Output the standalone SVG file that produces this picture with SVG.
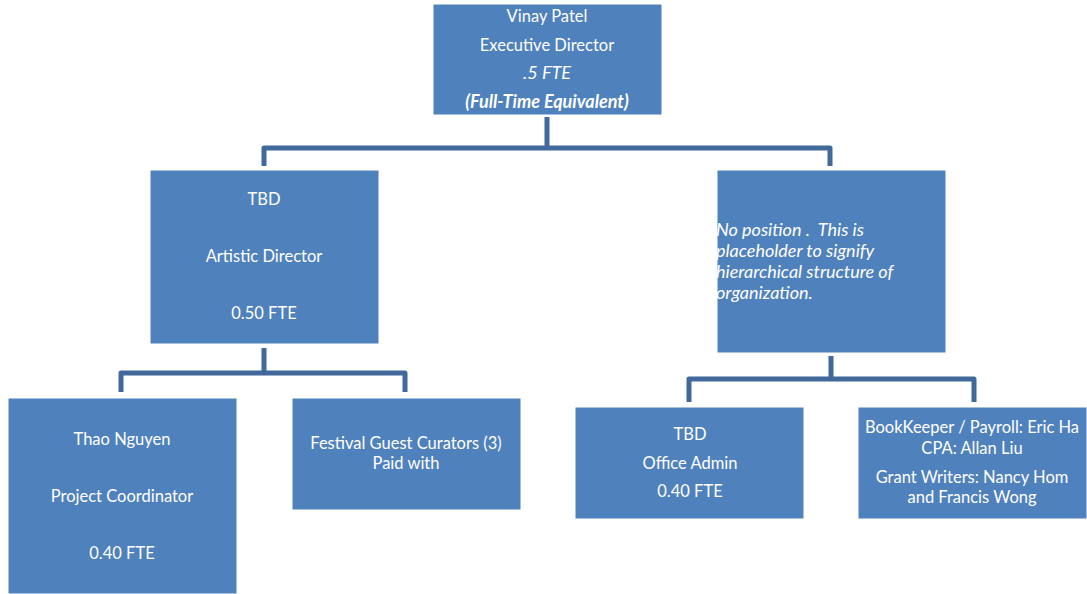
<svg xmlns="http://www.w3.org/2000/svg" width="1087" height="594" viewBox="0 0 1087 594">
<style>
.box{fill:#4F81BD;stroke:#ffffff;stroke-width:1}
.con{fill:none;stroke:#41699C;stroke-width:5;stroke-linejoin:round;stroke-linecap:butt}
text{font-family:Lato,"Open Sans",sans-serif;font-size:16.5px;fill:#ffffff}
.c{text-anchor:middle}
.i{font-style:italic;font-size:18px}
.bi{font-style:italic;font-weight:bold;font-size:18px}
</style>
<defs>
<clipPath id="clipR"><rect x="717" y="170" width="228" height="182"/></clipPath>
</defs>
<rect width="1087" height="594" fill="#ffffff"/>
<g id="connectors">
<path class="con" d="M547,117 V148 M264,166 V148 H830 V166"/>
<path class="con" d="M264,348 V373 M121,392 V373 H405 V392"/>
<path class="con" d="M831,356 V379 M689,402 V379 H974 V402"/>
</g>
<g id="n-exec">
<rect class="box" x="433" y="4" width="229" height="111"/>
<text class="c" x="547" y="22">Vinay Patel</text>
<text class="c" x="547" y="51">Executive Director</text>
<text class="c i" x="547" y="79">.5 FTE</text>
<text class="c bi" x="547" y="108">(Full-Time Equivalent)</text>
</g>
<g id="n-artistic">
<rect class="box" x="150" y="170" width="229" height="174"/>
<text class="c" x="264" y="205">TBD</text>
<text class="c" x="264" y="262">Artistic Director</text>
<text class="c" x="264" y="319">0.50 FTE</text>
</g>
<g id="n-placeholder">
<rect class="box" x="717" y="170" width="229" height="183"/>
<g clip-path="url(#clipR)">
<text class="i" x="716" y="236" xml:space="preserve">No position .  This is</text>
<text class="i" x="716" y="257">placeholder to signify</text>
<text class="i" x="716" y="278">hierarchical structure of</text>
<text class="i" x="716" y="299">organization.</text>
</g>
</g>
<g id="n-thao">
<rect class="box" x="8" y="398" width="229" height="196"/>
<text class="c" x="122" y="445">Thao Nguyen</text>
<text class="c" x="122" y="502">Project Coordinator</text>
<text class="c" x="122" y="559">0.40 FTE</text>
</g>
<g id="n-festival">
<rect class="box" x="292" y="398" width="229" height="112"/>
<text class="c" x="406" y="449">Festival Guest Curators (3)</text>
<text class="c" x="406" y="469">Paid with</text>
</g>
<g id="n-office">
<rect class="box" x="575" y="407" width="229" height="112"/>
<text class="c" x="690" y="440">TBD</text>
<text class="c" x="690" y="469">Office Admin</text>
<text class="c" x="690" y="497">0.40 FTE</text>
</g>
<g id="n-book">
<rect class="box" x="858" y="407" width="229" height="112"/>
<text class="c" x="972" y="433">BookKeeper / Payroll: Eric Ha</text>
<text class="c" x="972" y="454">CPA: Allan Liu</text>
<text class="c" x="972" y="483">Grant Writers: Nancy Hom</text>
<text class="c" x="972" y="503">and Francis Wong</text>
</g>
</svg>
